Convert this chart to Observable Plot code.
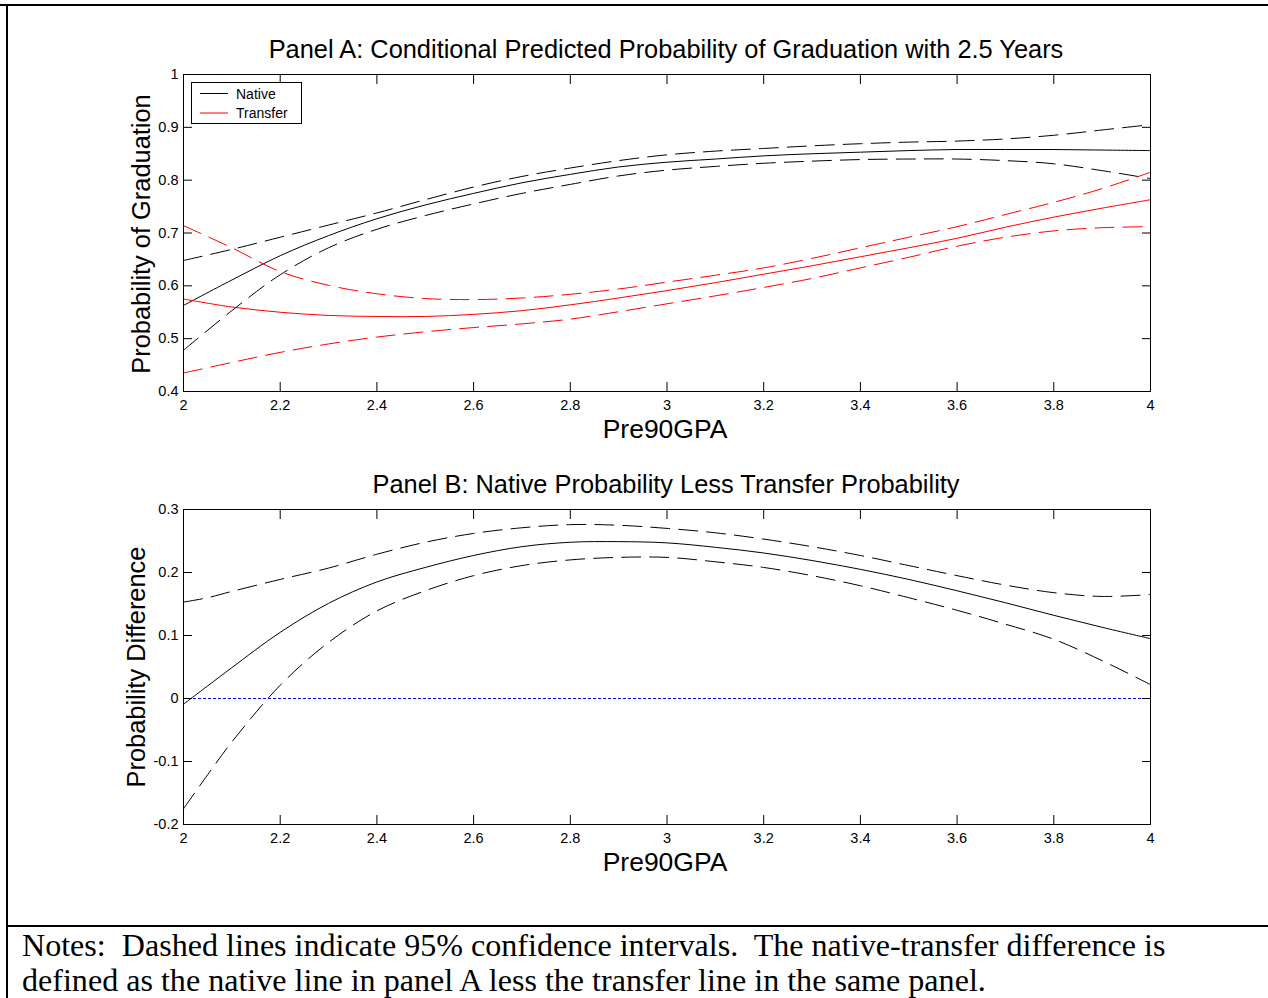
<!DOCTYPE html>
<html>
<head>
<meta charset="utf-8">
<script src="https://cdn.jsdelivr.net/npm/d3@7"></script>
<script src="https://cdn.jsdelivr.net/npm/@observablehq/plot@0.6"></script>
<style>
  html, body { margin: 0; padding: 0; background: #fff; }
  #page { position: relative; width: 1268px; height: 998px; overflow: hidden; background: #fff; }
  .layer { position: absolute; left: 0; }
  #overlay { position: absolute; left: 0; top: 0; pointer-events: none; }
</style>
</head>
<body>
<div id="page">
  <div id="panelA" class="layer" style="top:0"></div>
  <div id="panelB" class="layer" style="top:460px"></div>
  <svg id="overlay" width="1268" height="998" xmlns="http://www.w3.org/2000/svg"></svg>
</div>
<script>
// ---------- data ----------
const xTicks = [2, 2.2, 2.4, 2.6, 2.8, 3, 3.2, 3.4, 3.6, 3.8, 4];
const yTicksA = [0.4, 0.5, 0.6, 0.7, 0.8, 0.9, 1];
const yTicksB = [-0.2, -0.1, 0, 0.1, 0.2, 0.3];
const zeroLine = [0];

const gpaA = [2.0, 2.1, 2.2, 2.3, 2.4, 2.5, 2.6, 2.7, 2.8, 2.9, 3.0, 3.1, 3.2, 3.3, 3.4, 3.5, 3.6, 3.7, 3.8, 3.9, 4.0];
const nativeMid   = [0.563, 0.611, 0.657, 0.695, 0.727, 0.753, 0.775, 0.795, 0.811, 0.825, 0.834, 0.840, 0.846, 0.850, 0.853, 0.856, 0.858, 0.858, 0.858, 0.857, 0.856];
const nativeUpper = [0.648, 0.669, 0.692, 0.715, 0.738, 0.763, 0.787, 0.807, 0.823, 0.837, 0.848, 0.855, 0.860, 0.865, 0.869, 0.872, 0.874, 0.878, 0.885, 0.895, 0.905];
const nativeLower = [0.478, 0.553, 0.621, 0.672, 0.707, 0.733, 0.755, 0.775, 0.792, 0.808, 0.819, 0.826, 0.832, 0.836, 0.839, 0.840, 0.840, 0.837, 0.831, 0.818, 0.803];
const transferMid   = [0.575, 0.560, 0.550, 0.544, 0.542, 0.542, 0.546, 0.553, 0.564, 0.577, 0.591, 0.606, 0.622, 0.638, 0.655, 0.672, 0.690, 0.711, 0.730, 0.747, 0.763];
const transferUpper = [0.714, 0.672, 0.627, 0.601, 0.585, 0.576, 0.574, 0.577, 0.584, 0.594, 0.607, 0.620, 0.634, 0.652, 0.672, 0.692, 0.712, 0.735, 0.758, 0.784, 0.815];
const transferLower = [0.435, 0.455, 0.474, 0.490, 0.503, 0.513, 0.521, 0.528, 0.537, 0.551, 0.566, 0.581, 0.597, 0.614, 0.634, 0.654, 0.675, 0.692, 0.704, 0.710, 0.712];

const gpaB = [2.0, 2.05, 2.1, 2.2, 2.3, 2.4, 2.5, 2.6, 2.7, 2.8, 2.9, 3.0, 3.1, 3.2, 3.3, 3.4, 3.5, 3.6, 3.7, 3.8, 3.9, 4.0];
const diffMid   = [-0.009, 0.020, 0.049, 0.105, 0.151, 0.185, 0.208, 0.227, 0.241, 0.248, 0.249, 0.247, 0.240, 0.231, 0.219, 0.205, 0.189, 0.171, 0.152, 0.132, 0.113, 0.095];
const diffUpper = [0.153, 0.160, 0.170, 0.189, 0.207, 0.229, 0.248, 0.262, 0.271, 0.276, 0.275, 0.270, 0.263, 0.253, 0.241, 0.227, 0.211, 0.195, 0.180, 0.168, 0.162, 0.165];
const diffLower = [-0.175, -0.121, -0.069, 0.021, 0.089, 0.139, 0.171, 0.195, 0.211, 0.220, 0.224, 0.224, 0.217, 0.208, 0.195, 0.179, 0.160, 0.140, 0.118, 0.094, 0.060, 0.022];

const legendLabels = ["Native", "Transfer"];
const legendColors = ["#000000", "#ff0000"];

// ---------- helpers ----------
const toRows = (xs, ys) => xs.map((g, i) => ({gpa: g, v: ys[i]}));
const fmt = d => String(Math.round(d * 10) / 10);
const DASH = "19,9";
const FONT = "'Liberation Sans', Arial, Helvetica, sans-serif";
const BIG = 25.4;

function panel({yDomain, yTicks, height, marginTop, marginBottom, marks}) {
  return Plot.plot({
    width: 1268, height,
    marginLeft: 183, marginRight: 118, marginTop, marginBottom,
    style: {fontFamily: FONT, fontSize: "14.5px", color: "#000", background: "transparent", overflow: "visible"},
    x: {domain: [2, 4], label: null},
    y: {domain: yDomain, label: null},
    marks: [
      ...marks,
      Plot.frame({stroke: "#000", strokeWidth: 1}),
      Plot.axisX(xTicks, {anchor: "bottom", tickSize: 0, tickPadding: 8, tickFormat: fmt, label: null}),
      Plot.axisX(xTicks, {anchor: "bottom", tickSize: -9, tickFormat: () => "", label: null}),
      Plot.axisX(xTicks, {anchor: "top", tickSize: -9, tickFormat: () => "", label: null}),
      Plot.axisY(yTicks, {anchor: "left", tickSize: 0, tickPadding: 5, tickFormat: fmt, label: null}),
      Plot.axisY(yTicks, {anchor: "left", tickSize: -9, tickFormat: () => "", label: null}),
      Plot.axisY(yTicks, {anchor: "right", tickSize: -9, tickFormat: () => "", label: null})
    ]
  });
}

const lineOpts = (stroke, dashed) => ({x: "gpa", y: "v", stroke, strokeWidth: 1, curve: "catmull-rom", strokeDasharray: dashed ? DASH : null});

const plotA = panel({
  yDomain: [0.4, 1], yTicks: yTicksA, height: 460, marginTop: 74, marginBottom: 69,
  marks: [
    Plot.line(toRows(gpaA, nativeUpper), lineOpts(legendColors[0], true)),
    Plot.line(toRows(gpaA, nativeLower), lineOpts(legendColors[0], true)),
    Plot.line(toRows(gpaA, nativeMid), lineOpts(legendColors[0], false)),
    Plot.line(toRows(gpaA, transferUpper), lineOpts(legendColors[1], true)),
    Plot.line(toRows(gpaA, transferLower), lineOpts(legendColors[1], true)),
    Plot.line(toRows(gpaA, transferMid), lineOpts(legendColors[1], false))
  ]
});
document.getElementById("panelA").appendChild(plotA);

const plotB = panel({
  yDomain: [-0.2, 0.3], yTicks: yTicksB, height: 460, marginTop: 49, marginBottom: 96,
  marks: [
    Plot.ruleY(zeroLine, {stroke: "#0000ff", strokeWidth: 1, strokeDasharray: "3,2"}),
    Plot.line(toRows(gpaB, diffUpper), lineOpts("#000", true)),
    Plot.line(toRows(gpaB, diffLower), lineOpts("#000", true)),
    Plot.line(toRows(gpaB, diffMid), lineOpts("#000", false))
  ]
});
document.getElementById("panelB").appendChild(plotB);

// ---------- overlay: borders, titles, labels, legend, notes ----------
const svg = d3.select("#overlay");
svg.append("line").attr("x1", 0).attr("x2", 1268).attr("y1", 5).attr("y2", 5).attr("stroke", "#000").attr("stroke-width", 2);
svg.append("line").attr("x1", 7).attr("x2", 7).attr("y1", 4).attr("y2", 998).attr("stroke", "#000").attr("stroke-width", 2);
svg.append("line").attr("x1", 6).attr("x2", 1268).attr("y1", 926).attr("y2", 926).attr("stroke", "#000").attr("stroke-width", 2);

const sans = t => t.attr("font-family", FONT).attr("fill", "#000");
sans(svg.append("text")).attr("x", 666).attr("y", 58).attr("text-anchor", "middle").attr("font-size", BIG)
  .text("Panel A: Conditional Predicted Probability of Graduation with 2.5 Years");
sans(svg.append("text")).attr("x", 665).attr("y", 438).attr("text-anchor", "middle").attr("font-size", 26.5).text("Pre90GPA");
sans(svg.append("text")).attr("transform", "translate(150,234) rotate(-90)").attr("text-anchor", "middle").attr("font-size", BIG)
  .text("Probability of Graduation");
sans(svg.append("text")).attr("x", 666).attr("y", 493).attr("text-anchor", "middle").attr("font-size", BIG)
  .text("Panel B: Native Probability Less Transfer Probability");
sans(svg.append("text")).attr("x", 665).attr("y", 871).attr("text-anchor", "middle").attr("font-size", 26.5).text("Pre90GPA");
sans(svg.append("text")).attr("transform", "translate(145,667) rotate(-90)").attr("text-anchor", "middle").attr("font-size", BIG)
  .text("Probability Difference");

// legend
svg.append("rect").attr("x", 191.5).attr("y", 82.5).attr("width", 110).attr("height", 41).attr("fill", "#fff").attr("stroke", "#000").attr("stroke-width", 1);
legendLabels.forEach((lab, i) => {
  const y = 93.5 + i * 19.5;
  svg.append("line").attr("x1", 200).attr("x2", 228).attr("y1", y).attr("y2", y).attr("stroke", legendColors[i]).attr("stroke-width", 1);
  sans(svg.append("text")).attr("x", 236).attr("y", y + 5).attr("font-size", 14).text(lab);
});

// notes
const notes = [
  "Notes:  Dashed lines indicate 95% confidence intervals.  The native-transfer difference is",
  "defined as the native line in panel A less the transfer line in the same panel."
];
notes.forEach((t, i) => {
  svg.append("text").attr("x", 22).attr("y", 956 + i * 35).attr("font-family", "'Liberation Serif', 'Times New Roman', serif")
    .attr("font-size", 32.1).attr("fill", "#000").style("white-space", "pre").attr("xml:space", "preserve").text(t);
});
</script>
</body>
</html>
